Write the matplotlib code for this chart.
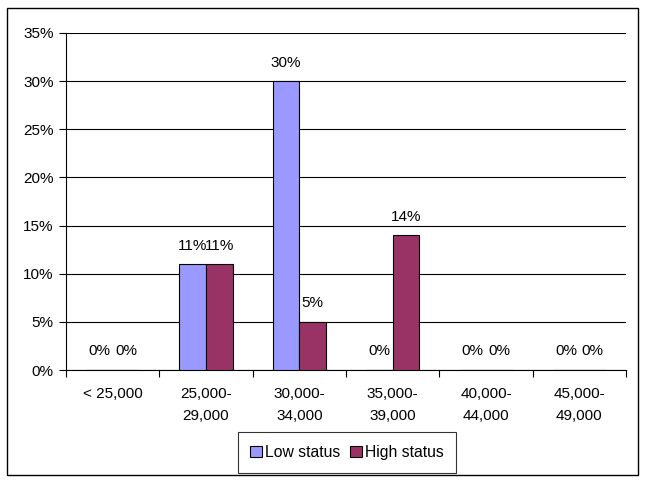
import matplotlib
matplotlib.use("Agg")
import matplotlib.pyplot as plt
from matplotlib.patches import Rectangle
import numpy as np

plt.rcParams['font.family'] = ['Liberation Sans', 'DejaVu Sans']

categories = ["< 25,000", "25,000-\n29,000", "30,000-\n34,000", "35,000-\n39,000",
              "40,000-\n44,000", "45,000-\n49,000"]
low_status = [0, 11, 30, 0, 0, 0]
high_status = [0, 11, 5, 14, 0, 0]
series_names = ["Low status", "High status"]
colors = ["#9999FF", "#993366"]

W, H = 645, 483
fig = plt.figure(figsize=(W / 100, H / 100), dpi=100)
# outer border
fig.patches.append(Rectangle((7 / W, 1 - 475 / H), (638 - 7) / W, (475 - 8) / H,
                             transform=fig.transFigure, fill=False, edgecolor='black', lw=1))

left, right, top, bottom = 66, 626, 33, 370
ax = fig.add_axes([left / W, 1 - bottom / H, (right - left) / W, (bottom - top) / H])

fs = 11
x = np.arange(len(categories))
bw = 0.285
for i, (vals, col, name) in enumerate(zip([low_status, high_status], colors, series_names)):
    pos = x + (i - 0.5) * bw
    ax.bar(pos, vals, width=bw, color=col, edgecolor='black', linewidth=0.8, label=name, zorder=3)
    for p, v in zip(pos, vals):
        ax.text(p, v + 1.2, f"{v}%", ha='center', va='bottom', fontsize=fs, zorder=4)

ax.set_xlim(-0.5, len(categories) - 0.5)
ax.set_ylim(0, 35)
ax.set_yticks(np.arange(0, 36, 5))
ax.set_yticklabels([f"{t}%" for t in range(0, 36, 5)], fontsize=fs)
ax.yaxis.grid(True, color='black', linewidth=0.8, zorder=0)
ax.set_xticks(np.arange(-0.5, len(categories), 1))
ax.set_xticklabels([])
ax.set_xticks(x, minor=True)
ax.set_xticklabels(categories, minor=True, fontsize=fs, linespacing=1.75)
ax.tick_params(axis='x', which='minor', length=0, pad=12)
ax.tick_params(axis='x', which='major', length=5, width=0.8, direction='out')
ax.tick_params(axis='y', length=5, width=0.8, direction='out', pad=4)
for s in ['top', 'right']:
    ax.spines[s].set_visible(False)
ax.spines['left'].set_linewidth(0.8)
ax.spines['bottom'].set_linewidth(0.8)

leg = fig.legend(loc='center', bbox_to_anchor=(347 / W, 1 - 452.5 / H), ncol=2,
                 fontsize=fs + 0.3, frameon=True, fancybox=False, edgecolor='black',
                 handlelength=0.75, handleheight=0.75, handletextpad=0.2, columnspacing=0.6,
                 borderpad=0.8, borderaxespad=0)
leg.get_frame().set_linewidth(0.8)

fig.savefig("out.png", dpi=100)
